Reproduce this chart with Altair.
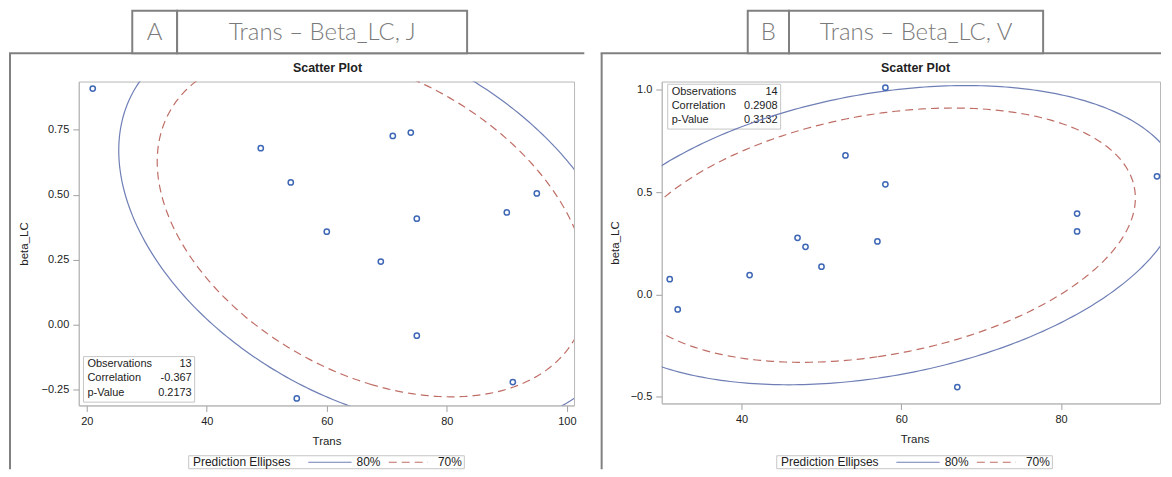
import altair as alt
import numpy as np
import pandas as pd

# ---------------- data ----------------
trans_a = [21, 49, 54, 55, 60, 69, 71, 74, 75, 75, 90, 91, 95]
beta_a = [0.908, 0.679, 0.547, -0.283, 0.358, 0.243, 0.726, 0.739, 0.408, -0.042, 0.432, -0.220, 0.505]

trans_b = [31, 32, 41, 47, 48, 50, 53, 57, 58, 58, 67, 82, 82, 92]
beta_b = [0.075, -0.073, 0.095, 0.277, 0.233, 0.136, 0.679, 0.259, 1.010, 0.538, -0.452, 0.395, 0.308, 0.577]

stat_names = ["Observations", "Correlation", "p-Value"]
stats_a = ["13", "-0.367", "0.2173"]
stats_b = ["14", "0.2908", "0.3132"]

ellipse_levels = [0.80, 0.70]
legend_labels = ["80%", "70%"]

xticks_a = [20, 40, 60, 80, 100]
yticks_a = [-0.25, 0.0, 0.25, 0.50, 0.75]
xticks_b = [40, 60, 80]
yticks_b = [-0.5, 0.0, 0.5, 1.0]

# ---------------- style ----------------
FONT = "Liberation Sans"
HFONT = "Lato"
FRAME = "#808080"
BOXC = "#c6c6c6"
PT = "#3e67b5"
BLUE = "#6f7fb6"
RED = "#bf6e66"
TXT = "#222222"
BOTTOM = 389  # lowest drawable y (relative to plot top) inside the page


def prediction_ellipse(xs, ys, p, npts=361):
    X = np.column_stack([xs, ys]).astype(float)
    n = len(xs)
    m = X.mean(axis=0)
    S = np.cov(X.T)
    fq = (n - 2) / 2.0 * ((1 - p) ** (-2.0 / (n - 2)) - 1)
    c = 2.0 * (n - 1) * (n + 1) / (n * (n - 2)) * fq
    vals, vecs = np.linalg.eigh(S)
    t = np.linspace(0, 2 * np.pi, npts)
    circ = np.vstack([np.cos(t), np.sin(t)])
    pts = (vecs @ (np.sqrt(vals * c)[:, None] * circ)).T + m
    return pd.DataFrame({"Trans": pts[:, 0], "beta_LC": pts[:, 1], "i": np.arange(npts)})


def one():
    return pd.DataFrame({"k": [0]})


def rect(x1, x2, y1, y2, stroke, sw, fill="transparent"):
    return alt.Chart(one()).mark_rect(fill=fill, stroke=stroke, strokeWidth=sw, clip=False).encode(
        x=alt.value(x1), x2=alt.value(x2), y=alt.value(y1), y2=alt.value(y2))


def text(s, x, y, size, align="left", font=FONT, color=TXT, weight="normal"):
    return alt.Chart(one()).mark_text(text=s, align=align, baseline="middle", font=font, fontSize=size,
                                      color=color, fontWeight=weight, clip=False).encode(
        x=alt.value(x), y=alt.value(y))


def hline(x1, x2, y, color, sw=1.2, dash=None, cap="butt"):
    kw = dict(color=color, strokeWidth=sw, clip=False, strokeCap=cap)
    if dash:
        kw["strokeDash"] = dash
    return alt.Chart(one()).mark_rule(**kw).encode(x=alt.value(x1), x2=alt.value(x2), y=alt.value(y))


def vline(x, y1, y2, color, sw=2):
    return alt.Chart(one()).mark_rule(color=color, strokeWidth=sw, clip=False).encode(
        x=alt.value(x), y=alt.value(y1), y2=alt.value(y2))


def panel(trans, beta, stats, letter, title, W, H, cx, xdom, ydom, xticks, yticks, yfmt,
          frame_l, frame_r, hdr_x, stats_box, stats_rows, ytitle_x):
    xs = alt.Scale(domain=xdom, nice=False, zero=False)
    ys = alt.Scale(domain=ydom, nice=False, zero=False)
    common = dict(grid=False, tickSize=6, labelPadding=4, labelFont=FONT, labelFontSize=11,
                  labelColor=TXT, titleFont=FONT, titleFontSize=11.5, titleFontWeight="normal",
                  titleColor=TXT, domainColor="#b8b8b8", tickColor="#a0a0a0",
                  titleBaseline="middle", titleAlign="center")
    xaxis = alt.Axis(values=xticks, title="Trans", titleX=cx, titleY=36, format="d", **common)
    yaxis = alt.Axis(values=yticks, title="beta_LC", titleX=ytitle_x, titleY=H / 2, format=yfmt, **common)

    pts = pd.DataFrame({"Trans": trans, "beta_LC": beta})
    layers = []
    # outer frame (left, top and optional right edge)
    layers.append(vline(frame_l, -28.3, BOTTOM, FRAME))
    layers.append(hline(frame_l, frame_r, -28.3, FRAME, sw=2, cap="square"))
    if frame_r < W:
        layers.append(vline(frame_r, -28.3, BOTTOM, FRAME))
    # header boxes
    layers.append(rect(hdr_x[0], hdr_x[1], -71, -28.3, FRAME, 2, fill="white"))
    layers.append(rect(hdr_x[1], hdr_x[2], -71, -28.3, FRAME, 2, fill="white"))
    layers.append(text(letter, (hdr_x[0] + hdr_x[1]) / 2, -49, 24, align="center", font=HFONT,
                       color="#7a7a7a", weight=300))
    layers.append(text(title, (hdr_x[1] + hdr_x[2]) / 2, -49, 24, align="center", font=HFONT,
                       color="#7a7a7a", weight=300))
    # plot title
    layers.append(text("Scatter Plot", cx + 1, -13.3, 12.5, align="center", weight="bold"))
    # stats box
    bx1, bx2, by1, by2 = stats_box
    layers.append(rect(bx1, bx2, by1, by2, BOXC, 1))
    for name, val, yy in zip(stat_names, stats, stats_rows):
        layers.append(text(name, bx1 + 4, yy, 11))
        layers.append(text(val, bx2 - 3, yy, 11, align="right"))
    # ellipses
    for lev, col, dash in zip(ellipse_levels, [BLUE, RED], [None, [8, 5]]):
        e = prediction_ellipse(trans, beta, lev)
        kw = dict(color=col, strokeWidth=1.2, clip=True)
        if dash:
            kw["strokeDash"] = dash
        layers.append(alt.Chart(e).mark_line(**kw).encode(
            x=alt.X("Trans:Q", scale=xs), y=alt.Y("beta_LC:Q", scale=ys), order=alt.Order("i:Q")))
    # points
    layers.append(alt.Chart(pts).mark_point(shape="circle", filled=False, size=28, strokeWidth=1.5,
                                            color=PT, opacity=1).encode(
        x=alt.X("Trans:Q", scale=xs, axis=xaxis), y=alt.Y("beta_LC:Q", scale=ys, axis=yaxis)))
    # legend
    ly = 382
    layers.append(rect(cx - 138.3, cx + 138.3, 375.5, 388.5, BOXC, 1))
    layers.append(text("Prediction Ellipses", cx - 134, ly, 12))
    layers.append(hline(cx - 18.3, cx + 25.2, ly, BLUE))
    layers.append(text(legend_labels[0], cx + 30.2, ly, 12))
    layers.append(hline(cx + 62.5, cx + 101.8, ly, RED, dash=[8, 5]))
    layers.append(text(legend_labels[1], cx + 111.8, ly, 12))
    return alt.layer(*layers).properties(width=W, height=H)


WA, HA = 497, 325
WB, HB = 500, 323

pa = panel(trans_a, beta_a, stats_a, "A", "Trans – Beta_LC, J", WA, HA, 248.6,
           [18.67, 101.2], [-0.31, 0.935], xticks_a, yticks_a, ".2f",
           frame_l=-69, frame_r=506.3, hdr_x=[53.7, 98.7, 389.7],
           stats_box=[4.7, 116.3, 276, 321.7], stats_rows=[283.3, 297.7, 312.3], ytitle_x=-54)

pb = panel(trans_b, beta_b, stats_b, "B", "Trans – Beta_LC, V", WB, HB, 253.7,
           [30.0, 92.38], [-0.532, 1.04], xticks_b, yticks_b, ".1f",
           frame_l=-60.3, frame_r=500, hdr_x=[86.3, 127.7, 382.7],
           stats_box=[6, 119.3, 2.7, 47.7], stats_rows=[10, 24.3, 39], ytitle_x=-46.3)

chart = alt.hconcat(pa, pb, spacing=88, bounds="flush", padding=0).configure_view(
    stroke="#b8b8b8", strokeWidth=1)

chart.save("out.html", embed_options={"renderer": "svg", "actions": False})
